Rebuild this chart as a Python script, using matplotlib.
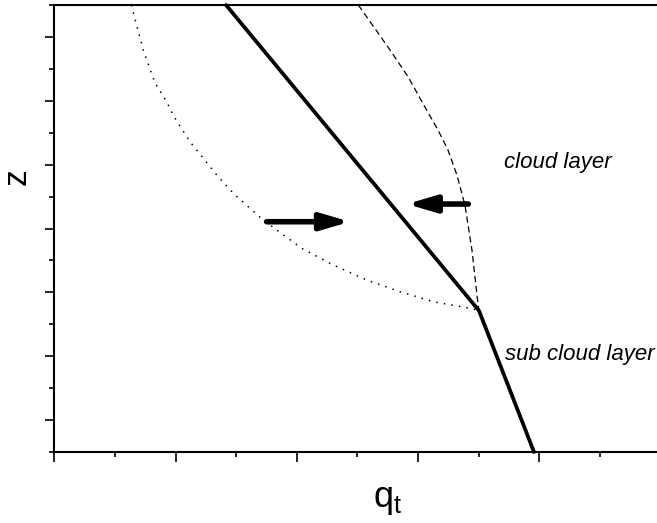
import matplotlib
matplotlib.use("Agg")
import matplotlib.pyplot as plt

plt.rcParams['font.family'] = ['Liberation Sans', 'DejaVu Sans']

# total water profile (solid)
qt_line = [1.417, 3.504, 3.958]
z_line = [7.0, 2.213, 0.0]

# left (dotted) curve
qt_dry = [0.635, 0.734, 0.831, 0.927, 0.988, 1.120, 1.340, 1.491, 1.724,
          2.041, 2.302, 2.578, 2.852, 3.127, 3.430, 3.504]
z_dry = [7.0, 6.295, 5.778, 5.485, 5.250, 4.858, 4.338, 4.024, 3.633,
         3.190, 2.928, 2.693, 2.510, 2.354, 2.250, 2.213]

# right (dashed) curve
qt_moist = [2.508, 2.672, 2.787, 2.920, 3.058, 3.166, 3.248, 3.322,
            3.388, 3.446, 3.492, 3.504]
z_moist = [7.0, 6.561, 6.248, 5.872, 5.402, 5.042, 4.729, 4.338,
           3.868, 3.163, 2.380, 2.213]

# arrows: (tail, tip)
arrow_tail_x = [1.752, 3.416]
arrow_tip_x = [2.440, 2.908]
arrow_z = [3.606, 3.883]

fig = plt.figure(figsize=(6.57, 5.23), dpi=100)
ax = fig.add_axes([54.3 / 657, 71 / 523, 606 / 657, 447 / 523])

ax.plot(qt_line, z_line, color='k', lw=2.7, solid_capstyle='round',
        solid_joinstyle='round', clip_on=False, zorder=3)
ax.plot(qt_dry, z_dry, color='k', lw=1.1, linestyle=(0, (1, 4)))
ax.plot(qt_moist, z_moist, color='k', lw=0.9, linestyle=(0, (5, 3)))

for x0, x1, z in zip(arrow_tail_x, arrow_tip_x, arrow_z):
    ax.annotate('', xy=(x1, z), xytext=(x0, z),
                arrowprops=dict(arrowstyle='-|>,head_length=0.85,head_width=0.25',
                                mutation_scale=20, lw=4, color='k',
                                shrinkA=0, shrinkB=0, capstyle='round'))

ax.text(3.71, 4.447, 'cloud layer', fontsize=16, style='italic',
        ha='left', va='baseline')
ax.text(3.719, 1.441, 'sub cloud layer', fontsize=16, style='italic',
        ha='left', va='baseline')

ax.set_xlim(0, 5)
ax.set_ylim(0, 7)
ax.set_xticks([0, 1, 2, 3, 4, 5])
ax.set_xticks([0.5, 1.5, 2.5, 3.5, 4.5], minor=True)
ax.set_yticks([0.5, 1.5, 2.5, 3.5, 4.5, 5.5, 6.5])
ax.set_yticks([0, 1, 2, 3, 4, 5, 6, 7], minor=True)
ax.tick_params(which='both', direction='out', labelleft=False, labelbottom=False,
               width=1.2, top=False, right=False)
ax.tick_params(axis='y', which='major', length=6.5)
ax.tick_params(axis='y', which='minor', length=3.6)
ax.tick_params(axis='x', which='major', length=7)
ax.tick_params(axis='x', which='minor', length=3.6)

for side in ['left', 'bottom', 'top']:
    ax.spines[side].set_linewidth(1.5)
ax.spines['right'].set_visible(False)

ax.set_ylabel('z', fontsize=24)
ax.yaxis.set_label_coords(-0.062, 0.615)
ax.yaxis.label.set_va('center')
ax.set_xlabel(r'$\mathregular{q_t}$', fontsize=26)
ax.xaxis.set_label_coords(0.55, -0.107)
ax.xaxis.label.set_va('center')

fig.savefig('out.png', dpi=100)
